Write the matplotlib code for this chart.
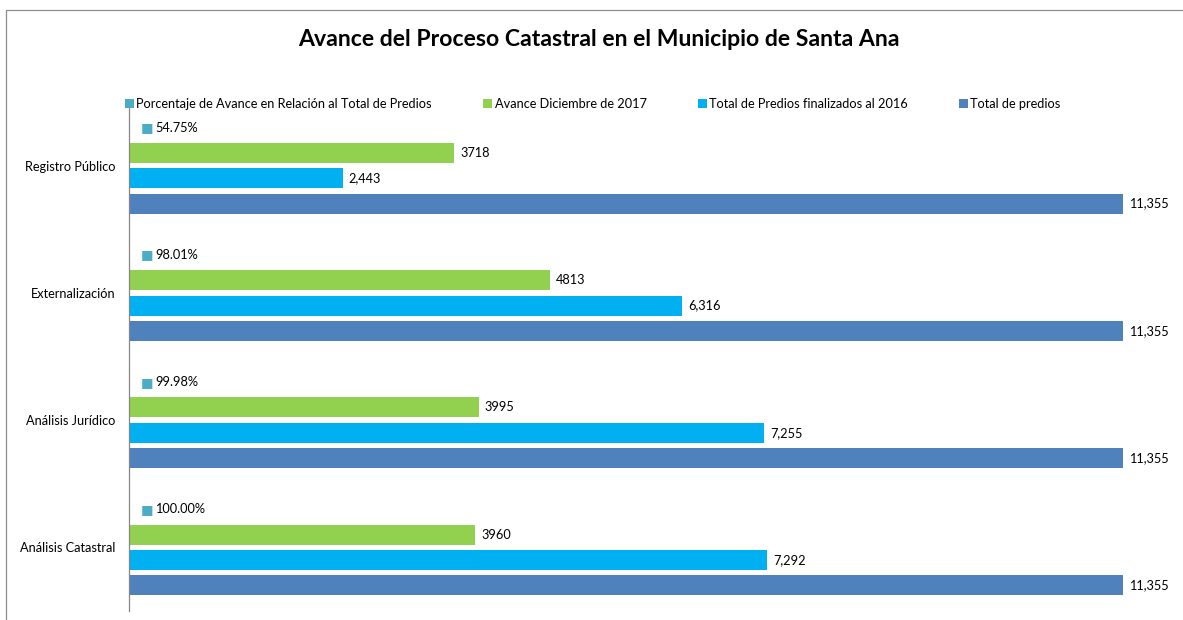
import matplotlib
matplotlib.use("Agg")
import matplotlib.pyplot as plt
from matplotlib.patches import Patch, Rectangle
import numpy as np

plt.rcParams['font.family'] = ['Lato', 'DejaVu Sans']

categories = ["Registro Público", "Externalización", "Análisis Jurídico", "Análisis Catastral"]
series_names = ["Porcentaje de Avance en Relación al Total de Predios",
                "Avance Diciembre de 2017",
                "Total de Predios finalizados al 2016",
                "Total de predios"]
porcentaje = [0.5475, 0.9801, 0.9998, 1.0]
avance_2017 = [3718, 4813, 3995, 3960]
finalizados_2016 = [2443, 6316, 7255, 7292]
total_predios = [11355, 11355, 11355, 11355]

colors = ["#4BACC6", "#92D050", "#00B0F0", "#4F81BD"]

W, H = 1183, 620
fig = plt.figure(figsize=(W / 100, H / 100), dpi=100)

# chart-area border (left and top visible)
fig.add_artist(Rectangle((6 / W, -0.05), 1.2, (1 - 10 / H) + 0.05, transform=fig.transFigure,
                         fill=False, edgecolor="#8C8C8C", linewidth=0.9))

ax_left, ax_right = 128.5 / W, 1180 / W
ax_top, ax_bot = 1 - 102 / H, 1 - 611 / H
ax = fig.add_axes([ax_left, ax_bot, ax_right - ax_left, ax_top - ax_bot])

y = np.arange(len(categories))
pitch = 0.199
bh = 0.157
all_series = [porcentaje, avance_2017, finalizados_2016, total_predios]
offsets = [-1.5, -0.5, 0.5, 1.5]
fs = 9.2

for vals, col, off, name in zip(all_series, colors, offsets, series_names):
    ax.barh(y + off * pitch, vals, height=bh, color=col, label=name)

# value labels
for i in range(len(categories)):
    yy = y[i]
    # percentage label with legend key
    ax.annotate("■", xy=(porcentaje[i], yy - 1.5 * pitch), xytext=(9.0, 0), textcoords="offset points",
                va="center", ha="left", fontsize=9.5, color=colors[0], family="DejaVu Sans")
    ax.annotate(f"{porcentaje[i] * 100:.2f}%", xy=(porcentaje[i], yy - 1.5 * pitch), xytext=(19, 0),
                textcoords="offset points", va="center", ha="left", fontsize=fs, color="#000000")
    ax.annotate(f"{avance_2017[i]}", xy=(avance_2017[i], yy - 0.5 * pitch), xytext=(4.3, 0),
                textcoords="offset points", va="center", ha="left", fontsize=fs)
    ax.annotate(f"{finalizados_2016[i]:,}", xy=(finalizados_2016[i], yy + 0.5 * pitch), xytext=(4.3, 0),
                textcoords="offset points", va="center", ha="left", fontsize=fs)
    ax.annotate(f"{total_predios[i]:,}", xy=(total_predios[i], yy + 1.5 * pitch), xytext=(4.3, 0),
                textcoords="offset points", va="center", ha="left", fontsize=fs)

ax.set_xlim(0, 12000)
ax.set_ylim(3.5, -0.5)
ax.set_yticks(y)
ax.set_yticklabels(categories, fontsize=fs)
ax.tick_params(axis="y", length=0, pad=9.5)
ax.set_xticks([])
for s in ["top", "right", "bottom"]:
    ax.spines[s].set_visible(False)
ax.spines["left"].set_color("#868686")
ax.spines["left"].set_linewidth(0.9)
ax.patch.set_alpha(0)

fig.text(599 / W, 1 - 40 / H, "Avance del Proceso Catastral en el Municipio de Santa Ana",
         ha="center", va="center", fontsize=16.6, fontweight="bold")

handles = [Patch(facecolor=c, edgecolor="none") for c in colors]
fig.legend(handles, series_names, loc="center left", bbox_to_anchor=(125 / W, 1 - 104 / H),
           ncol=4, frameon=False, fontsize=fs, handlelength=0.7, handleheight=0.7,
           handletextpad=0.2, columnspacing=4.0, borderpad=0, borderaxespad=0)

fig.savefig("out.png", dpi=100)
